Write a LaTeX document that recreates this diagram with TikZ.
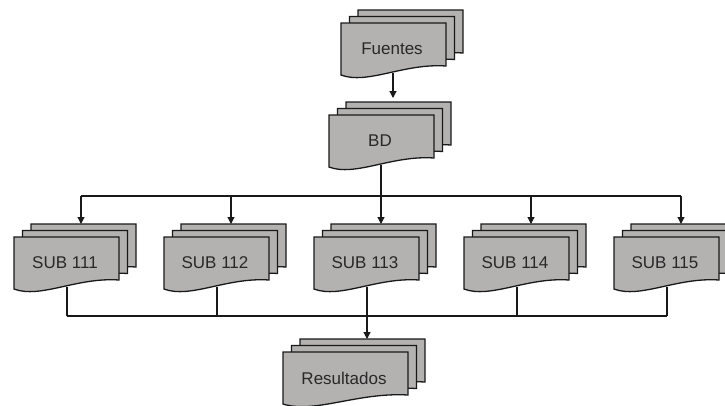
\documentclass[tikz,border=0pt]{standalone}
\usepackage{fontspec}
\setmainfont{Liberation Sans}
\usetikzlibrary{arrows.meta}
\definecolor{pagefill}{RGB}{180,177,177}
\definecolor{pageline}{RGB}{25,25,25}
\definecolor{txt}{RGB}{40,40,40}
\tikzset{
  docpg/.style={draw=pageline, fill=pagefill, line width=1.3pt, line join=miter},
  doclabel/.style={font=\fontsize{17}{19}\selectfont, text=txt, inner sep=0pt},
  conn/.style={draw=black!90, line width=1.1pt},
  arr/.style={conn, -{Triangle[length=7pt,width=7pt]}},
}
% one page: #1 x, #2 y (top-left, pixel coords), #3 width
\newcommand\mydocpage[3]{%
  \begin{scope}[shift={(#1,#2)}]
    \path[docpg] (0,0) -- (#3,0) -- (#3,43)
      .. controls (0.6*#3,40) and (0.25*#3,62) .. (0,52) -- cycle;
  \end{scope}}
% multidocument: #1 name, #2 x, #3 y, #4 width, #5 text
\newcommand\mymultidoc[5]{%
  \mydocpage{#2+17}{#3-13}{#4}
  \mydocpage{#2+8.5}{#3-6.5}{#4}
  \mydocpage{#2}{#3}{#4}
  \node[doclabel] (#1) at ({#2+0.5*#4-1.5},{#3+26}) {#5};}
\begin{document}
\begin{tikzpicture}[x=1pt,y=-1pt]
\useasboundingbox (0,0) rectangle (725,405);
% documents
\mymultidoc{fuentes}{341}{23}{105}{Fuentes}
\mymultidoc{bd}{329}{115}{105}{BD}
\foreach \i/\t in {0/111,1/112,2/113,3/114,4/115}{
  \mymultidoc{sub\t}{14+150*\i}{237}{105}{SUB \t}
}
\mymultidoc{res}{283}{352}{125}{Resultados}
% connection points
\coordinate (fu-out) at (393,73);
\coordinate (bd-in) at (393,102);
\coordinate (bd-out) at (381,165);
\coordinate (bus-top) at (381,196);
\coordinate (bus-l) at (81,196);
\coordinate (bus-r) at (681,196);
\foreach \i/\t in {0/111,1/112,2/113,3/114,4/115}{
  \coordinate (in\t) at (81+150*\i,224);
  \coordinate (tap\t) at (81+150*\i,196);
  \coordinate (out\t) at (67+150*\i,287);
  \coordinate (low\t) at (67+150*\i,316);
}
\coordinate (res-tap) at (367,316);
\coordinate (res-in) at (367,339);
% connectors
\draw[arr, shorten >=4pt] (fu-out) -- (bd-in);
\draw[conn] (bd-out) -- (bus-top);
\draw[conn] (bus-l) -- (bus-r);
\foreach \t in {111,112,113,114,115}{
  \draw[arr] (tap\t) -- (in\t);
  \draw[conn] (out\t) -- (low\t);
}
\draw[conn] (low111) -- (low115);
\draw[arr] (res-tap) -- (res-in);
\end{tikzpicture}
\end{document}
